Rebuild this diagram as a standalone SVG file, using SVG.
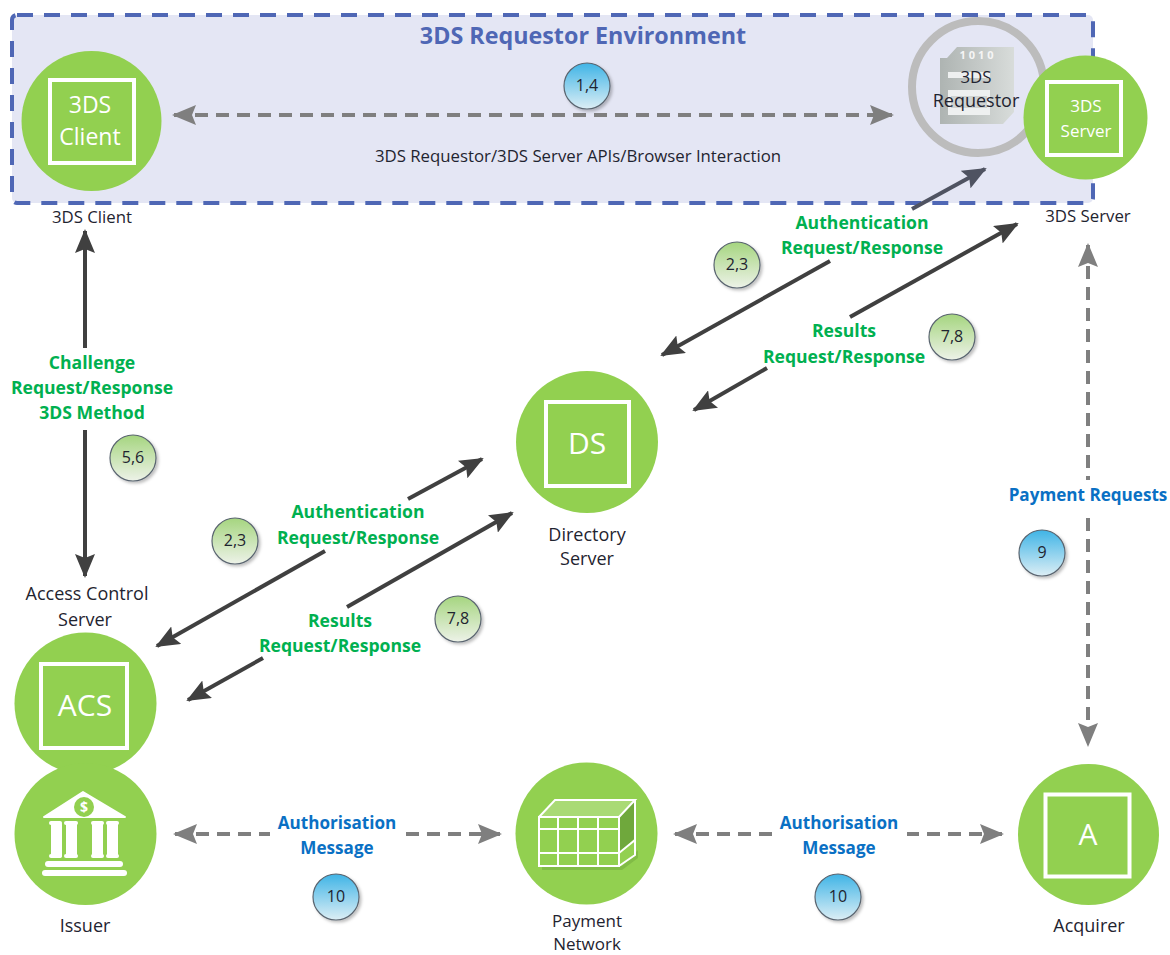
<svg xmlns="http://www.w3.org/2000/svg" width="1170" height="955" viewBox="0 0 1170 955">
<defs>
<linearGradient id="blue" x1="0" y1="0" x2="0" y2="1"><stop offset="0" stop-color="#3fb4e6"/><stop offset="1" stop-color="#dceef5"/></linearGradient>
<linearGradient id="green" x1="0" y1="0" x2="0" y2="1"><stop offset="0" stop-color="#a5d57f"/><stop offset="1" stop-color="#edf2e8"/></linearGradient>
<linearGradient id="doc" x1="0" y1="0" x2="1" y2="0"><stop offset="0" stop-color="#aeb4b2"/><stop offset="1" stop-color="#d8dcda"/></linearGradient>
<filter id="sh" x="-20%" y="-20%" width="150%" height="150%"><feDropShadow dx="2" dy="2" stdDeviation="1.5" flood-color="#000" flood-opacity=".25"/></filter>
<marker id="dk" viewBox="0 0 12 10" refX="11" refY="5" markerWidth="6" markerHeight="5" markerUnits="strokeWidth" orient="auto-start-reverse"><path d="M0 0L12 5L0 10L2 5Z" fill="#404040"/></marker>
<marker id="sl" viewBox="0 0 12 10" refX="11" refY="5" markerWidth="6" markerHeight="5" markerUnits="strokeWidth" orient="auto-start-reverse"><path d="M0 0L12 5L0 10L2 5Z" fill="#4f5361"/></marker>
<marker id="gr" viewBox="0 0 12 10" refX="11" refY="5" markerWidth="6" markerHeight="5" markerUnits="strokeWidth" orient="auto-start-reverse"><path d="M0 0L12 5L0 10L2 5Z" fill="#7f7f7f"/></marker>
</defs>
<style>
text{font-family:"Open Sans","Noto Sans","DejaVu Sans",sans-serif;text-anchor:middle}
.lb{font-size:16.8px;fill:#1f2430}
.lc{font-size:18px;fill:#1f2430}
.ln{font-size:17px;fill:#1f2430}
.g{font-size:17.6px;font-weight:700;fill:#00b050}
.b{font-size:17.1px;font-weight:700;fill:#0a70c4}
.w{fill:#fff}
.c{fill:#92d050}
.sq{fill:none;stroke:#fff;stroke-width:4}
.dk{fill:none;stroke:#404040;stroke-width:4}
.ds{fill:none;stroke:#7f7f7f;stroke-width:4;stroke-dasharray:13 8}
.bd{stroke:#5a6570;stroke-width:1.2;filter:url(#sh)}
.n{font-size:16px;fill:#1f2430}
</style>
<g id="environment">
<rect x="12" y="15" width="1081" height="188" rx="5" fill="#e4e6f4" stroke="#4f67b5" stroke-width="4" stroke-dasharray="16 11"/>
<text x="583" y="44" font-weight="700" fill="#4f67b5" style="font-size:23.3px">3DS Requestor Environment</text>
</g>
<g id="connectors">
<line class="ds" x1="174" y1="115" x2="892" y2="115" marker-start="url(#gr)" marker-end="url(#gr)"/>
<line class="dk" x1="85" y1="348" x2="85" y2="231" marker-end="url(#dk)"/>
<line class="dk" x1="85" y1="430" x2="85" y2="576" marker-end="url(#dk)"/>
<path d="M912 209L985 169" fill="none" stroke="#4f5361" stroke-width="4" marker-end="url(#sl)"/>
<path d="M830 261L662 355" class="dk" marker-end="url(#dk)"/>
<path d="M850 317L1017 224" class="dk" marker-end="url(#dk)"/>
<path d="M767 368L694 410" class="dk" marker-end="url(#dk)"/>
<path d="M408 499L482 459" class="dk" marker-end="url(#dk)"/>
<path d="M325 551L157 646" class="dk" marker-end="url(#dk)"/>
<path d="M347 607L512 513" class="dk" marker-end="url(#dk)"/>
<path d="M263 658L188 700" class="dk" marker-end="url(#dk)"/>
<line class="ds" x1="1088" y1="245" x2="1088" y2="745" marker-start="url(#gr)" marker-end="url(#gr)"/>
<line class="ds" x1="175" y1="834" x2="500" y2="834" marker-start="url(#gr)" marker-end="url(#gr)"/>
<line class="ds" x1="675" y1="834" x2="1002" y2="834" marker-start="url(#gr)" marker-end="url(#gr)"/>
</g>
<g id="label-bgs" fill="#fff">
<rect x="1005" y="480" width="165" height="30"/>
<rect x="270" y="808" width="135" height="54"/>
<rect x="772" y="808" width="135" height="54"/>
</g>
<g id="client"><circle class="c" cx="91.5" cy="121" r="70"/><rect class="sq" x="50" y="80" width="84" height="83"/><text class="w" x="90" y="113" style="font-size:23px">3DS</text><text class="w" x="90" y="145" style="font-size:23px">Client</text><text class="lb" x="92" y="223">3DS Client</text></g>
<g id="requestor">
<circle cx="978" cy="87" r="66" fill="none" stroke="#bcbcbc" stroke-width="8"/>
<path d="M947 58L957 47H1014V112L1003 124H940V58Z" fill="url(#doc)"/>
<rect x="948" y="72" width="42" height="6" fill="#eef0f0"/><rect x="948" y="90" width="42" height="25" fill="#eef0f0"/><rect x="951" y="96" width="36" height="12" fill="#cfd3d2"/>
<text x="978" y="59" style="font-size:11px;font-weight:700;letter-spacing:3px" fill="#f5f5f5">1010</text>
<text class="lb" x="976" y="83">3DS</text><text class="lc" x="976" y="107">Requestor</text>
</g>
<g id="server"><circle class="c" cx="1085.5" cy="117.5" r="62"/><rect class="sq" x="1047" y="82" width="74" height="73"/><text class="w" x="1086" y="112" style="font-size:17px">3DS</text><text class="w" x="1086" y="137" style="font-size:17px">Server</text><text class="lb" x="1088" y="222">3DS Server</text></g>
<g id="ds"><circle class="c" cx="587" cy="442" r="71"/><rect class="sq" x="546" y="402" width="83" height="84"/><text class="w" x="587" y="454" style="font-size:30px">DS</text><text class="lc" x="587" y="541">Directory</text><text class="lc" x="587" y="565">Server</text></g>
<g id="acs"><text class="lc" x="87" y="600">Access Control</text><text class="lc" x="85" y="626">Server</text><circle class="c" cx="85.5" cy="703.5" r="71"/><rect class="sq" x="41" y="664" width="86" height="84"/><text class="w" x="85" y="716" style="font-size:30px">ACS</text></g>
<g id="issuer"><circle class="c" cx="85.5" cy="834" r="71"/><path d="M44 817L83 792L125 817Z" fill="#fff" stroke="#fff" stroke-width="2" stroke-linejoin="round"/><circle cx="84" cy="807" r="10" class="c"/><text x="84" y="812" style="font-size:14px;font-weight:700" class="w">$</text>
<g fill="#fff"><rect x="51" y="822" width="11" height="36" rx="3"/><rect x="66" y="822" width="11" height="36" rx="3"/><rect x="92" y="822" width="11" height="36" rx="3"/><rect x="107" y="822" width="11" height="36" rx="3"/><rect x="49" y="821" width="13" height="4" rx="2"/><rect x="64" y="821" width="14" height="4" rx="2"/><rect x="91" y="821" width="13" height="4" rx="2"/><rect x="106" y="821" width="13" height="4" rx="2"/><rect x="49" y="854" width="13" height="4" rx="2"/><rect x="64" y="854" width="14" height="4" rx="2"/><rect x="91" y="854" width="13" height="4" rx="2"/><rect x="106" y="854" width="13" height="4" rx="2"/><rect x="45" y="861" width="78" height="6" rx="3"/><rect x="42" y="870" width="85" height="6" rx="3"/></g>
<text class="lc" x="85" y="932">Issuer</text></g>
<g id="network"><circle class="c" cx="586.5" cy="833.5" r="71"/>
<path d="M542 870H622L638 858V850L622 866H542Z" fill="#6fa83c" fill-opacity=".5"/>
<path d="M539 817L555 800H635L619 817Z" fill="#a9da75"/><path d="M619 817L635 800V838L619 853Z" fill="#6fa83c"/>
<g fill="none" stroke="#fff" stroke-width="2"><path d="M539 817H619V866H539ZM539 817L555 800H635L619 817M635 800V855L619 866M539 829H619M539 853H619M558 817V866M578 817V866M598 817V866M619 853L635 840"/></g>
<text class="ln" x="587" y="926.500">Payment</text><text class="ln" x="587" y="950">Network</text></g>
<g id="acquirer"><circle class="c" cx="1088.5" cy="834.5" r="70.5"/><rect class="sq" x="1045.500" y="794.500" width="84" height="82"/><text class="w" x="1088" y="845" style="font-size:30px">A</text><text class="lc" x="1089" y="932">Acquirer</text></g>
<g id="labels">
<text class="lb" x="578" y="162">3DS Requestor/3DS Server APIs/Browser Interaction</text>
<text class="g" x="862" y="229">Authentication</text><text class="g" x="862" y="254">Request/Response</text>
<text class="g" x="844" y="337">Results</text><text class="g" x="844" y="363">Request/Response</text>
<text class="g" x="92" y="369">Challenge</text><text class="g" x="92" y="394">Request/Response</text><text class="g" x="92" y="419">3DS Method</text>
<text class="g" x="358" y="518">Authentication</text><text class="g" x="358" y="544">Request/Response</text>
<text class="g" x="340" y="627">Results</text><text class="g" x="340" y="652">Request/Response</text>
<text class="b" x="1088" y="501">Payment Requests</text>
<text class="b" x="337" y="829">Authorisation</text><text class="b" x="337" y="854">Message</text>
<text class="b" x="839" y="829">Authorisation</text><text class="b" x="839" y="854">Message</text>
</g>
<g id="badges">
<g><circle class="bd" cx="587" cy="86" r="23" fill="url(#blue)"/><text class="n" x="587" y="91">1,4</text></g>
<g><circle class="bd" cx="737" cy="265" r="23" fill="url(#green)"/><text class="n" x="737" y="270">2,3</text></g>
<g><circle class="bd" cx="952" cy="337" r="23" fill="url(#green)"/><text class="n" x="952" y="342">7,8</text></g>
<g><circle class="bd" cx="133" cy="458" r="23" fill="url(#green)"/><text class="n" x="133" y="463">5,6</text></g>
<g><circle class="bd" cx="235" cy="541" r="23" fill="url(#green)"/><text class="n" x="235" y="546">2,3</text></g>
<g><circle class="bd" cx="458" cy="619" r="23" fill="url(#green)"/><text class="n" x="458" y="624">7,8</text></g>
<g><circle class="bd" cx="1042" cy="553" r="23" fill="url(#blue)"/><text class="n" x="1042" y="558">9</text></g>
<g><circle class="bd" cx="336" cy="897" r="23" fill="url(#blue)"/><text class="n" x="336" y="902">10</text></g>
<g><circle class="bd" cx="838" cy="897" r="23" fill="url(#blue)"/><text class="n" x="838" y="902">10</text></g>
</g>
</svg>
